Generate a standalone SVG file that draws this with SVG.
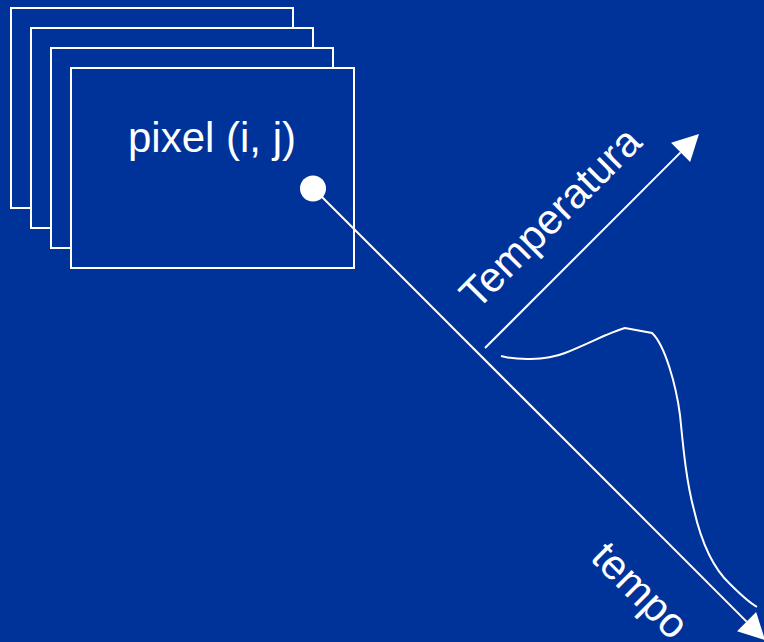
<svg xmlns="http://www.w3.org/2000/svg" width="764" height="642" viewBox="0 0 764 642">
  <style>
    .frame { fill: #003399; stroke: #ffffff; stroke-width: 2; }
    .axis { fill: none; stroke: #ffffff; stroke-width: 2; }
    .lbl { fill: #ffffff; font-family: "Liberation Sans", Arial, sans-serif; font-size: 42px; }
  </style>
  <defs>
    <marker id="arrow" markerUnits="userSpaceOnUse" markerWidth="27" markerHeight="28" refX="0" refY="13.5" orient="auto" viewBox="0 0 27 27" overflow="visible">
      <path d="M0,0 L26,13.5 L0,27 Z" fill="#ffffff"/>
    </marker>
  </defs>
  <rect x="0" y="0" width="764" height="642" fill="#003399"/>

  <g id="frame-1"><rect class="frame" x="11" y="8" width="282" height="200"/></g>
  <g id="frame-2"><rect class="frame" x="31" y="28" width="282" height="200"/></g>
  <g id="frame-3"><rect class="frame" x="51" y="48" width="282" height="200"/></g>
  <g id="frame-4">
    <rect class="frame" x="71" y="68" width="283" height="200"/>
    <text class="lbl" x="128" y="152">pixel (i, j)</text>
  </g>

  <g id="connectors">
    <line class="axis" x1="313" y1="188" x2="746.6" y2="621.6" marker-end="url(#arrow)"/>
    <line class="axis" x1="485" y1="348" x2="680.6" y2="152.4" marker-end="url(#arrow)"/>
  </g>

  <g id="pixel-point"><circle cx="313" cy="188.5" r="13" fill="#ffffff"/></g>

  <g id="temperature-curve">
    <path class="axis" d="M501,356 C515,360 545,361 565,353 C590,343 610,332 625,328 L652,333 C665,345 676,385 680,415 C683,445 686,480 694,510 C702,545 715,570 730,584 C742,596 750,603 757,607"/>
  </g>

  <g id="label-temperatura">
    <text class="lbl" transform="translate(477,311) rotate(-45)">Temperatura</text>
  </g>
  <g id="label-tempo">
    <text class="lbl" transform="translate(589,559) rotate(45)">tempo</text>
  </g>
</svg>
